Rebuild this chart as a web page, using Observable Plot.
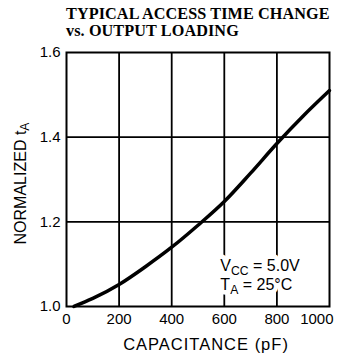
<!DOCTYPE html>
<html><head><meta charset="utf-8">
<script src="https://cdn.jsdelivr.net/npm/d3@7"></script>
<script src="https://cdn.jsdelivr.net/npm/@observablehq/plot@0.6"></script>
<style>
body{margin:0;background:#fff;width:341px;height:358px;overflow:hidden}
#title{font-family:"Liberation Serif","Times New Roman",serif;font-weight:bold;font-size:16.2px;line-height:17.2px;padding:6px 0 0 66px;height:34.4px;color:#000;white-space:nowrap;letter-spacing:0.1px}
#chart svg{display:block}
</style></head><body>
<div id="title">TYPICAL ACCESS TIME CHANGE<br>vs. OUTPUT LOADING</div>
<div id="chart"></div>
<script>
const capacitance = [28, 100, 200, 300, 400, 500, 600, 700, 800, 900, 1000];
const normalizedTA = [1.0, 1.019, 1.052, 1.094, 1.14, 1.192, 1.248, 1.315, 1.385, 1.45, 1.51];
const xTicks = [0, 200, 400, 600, 800, 1000];
const yTicks = [1.0, 1.2, 1.4, 1.6];
const xGrid = [200, 400, 600, 800];
const yGrid = [1.2, 1.4];
const noteLines = ["V{CC} = 5.0V", "T{A} = 25°C"];
const xLabel = "CAPACITANCE (pF)";
const yLabel = "NORMALIZED t{A}";

const data = capacitance.map((c, i) => ({c, t: normalizedTA[i]}));
const notes = [
  {text: noteLines[0], x: 585, y: 1.095},
  {text: noteLines[1], x: 585, y: 1.050}
];

const svg = Plot.plot({
  width: 341,
  height: 318,
  marginTop: 12,
  marginBottom: 52,
  marginLeft: 66,
  marginRight: 12,
  style: {fontFamily: "'Liberation Sans', Arial, sans-serif", fontSize: "15px", color: "#000", background: "#fff"},
  x: {domain: [0, 1000], ticks: xTicks, tickFormat: d3.format("d"), tickSize: 0, tickPadding: 7, label: null},
  y: {domain: [1.0, 1.6], ticks: yTicks, tickFormat: d3.format(".1f"), tickSize: 0, tickPadding: 6, label: null},
  marks: [
    Plot.ruleX(xGrid, {stroke: "black", strokeWidth: 1.8}),
    Plot.ruleY(yGrid, {stroke: "black", strokeWidth: 1.6}),
    Plot.frame({stroke: "black", strokeWidth: 2}),
    Plot.line(data, {x: "c", y: "t", stroke: "black", strokeWidth: 3.5, curve: "monotone-x"}),
    Plot.text(notes, {x: "x", y: "y", text: "text", textAnchor: "start", fill: "black", stroke: "white", strokeWidth: 9, fontSize: 16}),
    Plot.text([xLabel], {frameAnchor: "bottom", text: d => d, textAnchor: "middle", lineAnchor: "middle", dy: 38, dx: 8, fill: "black", fontSize: 16.5}),
    Plot.text([yLabel], {frameAnchor: "left", text: d => d, textAnchor: "middle", lineAnchor: "middle", rotate: -90, dx: -46, dy: 4, fill: "black", fontSize: 16})
  ]
});

// subscripts: {..}
d3.select(svg).selectAll("text").each(function () {
  const t = this.textContent;
  if (!t.includes("{")) return;
  const sel = d3.select(this);
  sel.text("");
  const parts = t.split(/(\{[^}]*\})/);
  let shifted = false;
  for (const p of parts) {
    if (!p) continue;
    if (p.startsWith("{")) {
      sel.append("tspan").attr("dy", 3.5).attr("font-size", "0.76em").text(p.slice(1, -1));
      shifted = true;
    } else {
      const ts = sel.append("tspan").text(p);
      if (shifted) { ts.attr("dy", -3.5); shifted = false; }
    }
  }
});
d3.select(svg).selectAll("text").filter(function(){return this.textContent === xLabel;}).style("letter-spacing", "1px");
// last x tick label sits left-shifted inside the right edge, as in the reference
d3.select(svg).selectAll("text").filter(function(){return this.textContent === "1000" && !this.querySelector("tspan");})
  .attr("text-anchor", "end").attr("dx", 4);

document.getElementById("chart").appendChild(svg);
</script>
</body></html>
